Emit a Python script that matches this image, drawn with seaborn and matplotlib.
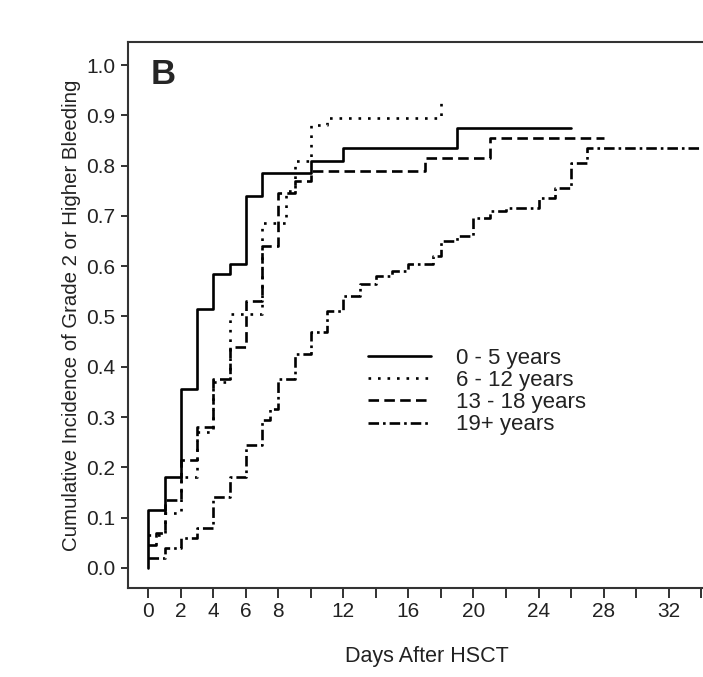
import numpy as np
import pandas as pd
import matplotlib
matplotlib.use('Agg')
import matplotlib.pyplot as plt
import seaborn as sns

groups = ['0 - 5 years', '6 - 12 years', '13 - 18 years', '19+ years']

# step times (days after HSCT) and cumulative incidence after each step
days_0_5 = [0, 0, 1, 2, 3, 4, 5, 6, 7, 10, 12, 19, 26]
inc_0_5 = [0.0, 0.115, 0.18, 0.355, 0.515, 0.585, 0.605, 0.74, 0.785, 0.81, 0.835, 0.875, 0.875]

days_6_12 = [0, 1, 2, 3, 4, 5, 7, 8.5, 9, 10, 11, 18]
inc_6_12 = [0.065, 0.11, 0.18, 0.27, 0.37, 0.505, 0.685, 0.75, 0.81, 0.88, 0.895, 0.935]

days_13_18 = [0, 0.5, 1, 2, 3, 4, 5, 6, 7, 8, 9, 10, 17, 21, 28]
inc_13_18 = [0.045, 0.07, 0.135, 0.215, 0.28, 0.375, 0.44, 0.53, 0.64, 0.745, 0.77, 0.79, 0.815, 0.855, 0.855]

days_19p = [0, 1, 2, 3, 4, 5, 6, 7, 7.5, 8, 9, 10, 11, 12, 13, 14, 15, 16, 17.5,
            18, 19, 20, 21, 22, 24, 25, 26, 27, 35.5]
inc_19p = [0.02, 0.04, 0.06, 0.08, 0.14, 0.18, 0.245, 0.295, 0.315, 0.375, 0.425, 0.47,
           0.51, 0.54, 0.565, 0.58, 0.59, 0.605, 0.62, 0.65, 0.66, 0.695, 0.71, 0.715,
           0.735, 0.755, 0.805, 0.835, 0.835]

x_ticks = list(range(0, 35, 2))
x_labels = ['0', '2', '4', '6', '8', '', '12', '', '16', '', '20', '', '24', '', '28', '', '32', '']
y_ticks = [0.0, 0.1, 0.2, 0.3, 0.4, 0.5, 0.6, 0.7, 0.8, 0.9, 1.0]

frames = []
for g, d, v in zip(groups, [days_0_5, days_6_12, days_13_18, days_19p],
                   [inc_0_5, inc_6_12, inc_13_18, inc_19p]):
    frames.append(pd.DataFrame({'day': d, 'inc': v, 'group': g}))
df = pd.concat(frames, ignore_index=True)

sns.set_style('ticks')
plt.rcParams['font.family'] = ['Liberation Sans', 'DejaVu Sans']

fig = plt.figure(figsize=(7.03, 6.77), dpi=100)
ax = fig.add_axes([0.182, 0.1315, 0.85, 0.8065])

dashes = {'0 - 5 years': '', '6 - 12 years': (1, 2.6),
          '13 - 18 years': (4, 2), '19+ years': (4, 1.5, 1, 1.5)}
sns.lineplot(data=df, x='day', y='inc', style='group', style_order=groups,
             dashes=dashes, color='black', estimator=None, sort=False,
             drawstyle='steps-post', linewidth=1.9, ax=ax)

ax.set_xlim(-1.25, 35.5)
ax.set_ylim(-0.04, 1.046)
ax.set_xticks(x_ticks)
ax.set_xticklabels(x_labels)
ax.set_yticks(y_ticks)
ax.set_yticklabels([f'{t:.1f}' for t in y_ticks])
ax.tick_params(axis='both', direction='out', width=1.3, labelsize=15,
               colors='#222222')
ax.tick_params(axis='x', length=7, pad=3)
ax.tick_params(axis='y', length=5, pad=4)
for s in ['left', 'bottom', 'top']:
    ax.spines[s].set_linewidth(1.5)
    ax.spines[s].set_color('#333333')
ax.spines['right'].set_visible(False)

ax.set_xlabel('Days After HSCT', fontsize=15.5, labelpad=18, color='#222222')
ax.set_ylabel('Cumulative Incidence of Grade 2 or Higher Bleeding', fontsize=14.7,
              labelpad=4, color='#222222')
ax.text(0.038, 0.94, 'B', transform=ax.transAxes, fontsize=25, fontweight='bold',
        va='center', ha='left')

leg = ax.legend(loc='upper left', bbox_to_anchor=(0.524, 0.486),
                bbox_transform=fig.transFigure, frameon=False, fontsize=16,
                handlelength=2.8, handletextpad=1.15, labelspacing=0.05,
                borderaxespad=0, borderpad=0)
for t in leg.get_texts():
    t.set_color('#222222')

fig.savefig('out.png', dpi=100)
